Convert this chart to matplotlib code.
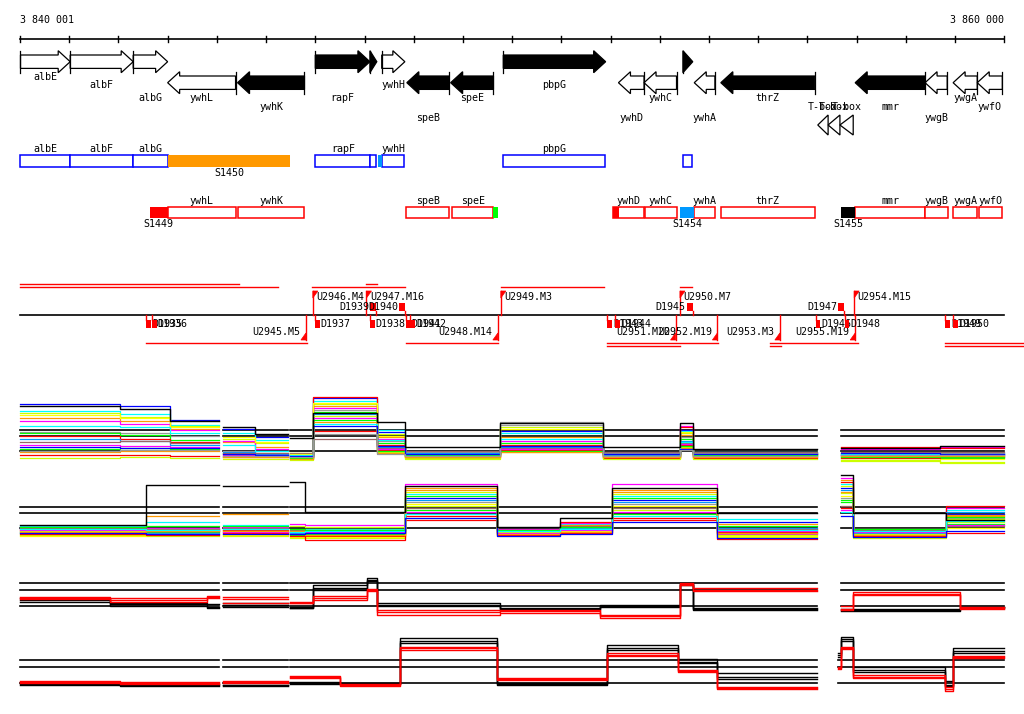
import numpy as np
import matplotlib
matplotlib.use("Agg")
import matplotlib.pyplot as plt
from matplotlib.patches import Polygon, Rectangle

# ------------------------------------------------------------------ data
REGION_LABELS = ["3 840 001", "3 860 000"]
REGION_KB = [3840.0, 3860.0]
TICKS_KB = list(range(3840, 3861))

GENE_NAMES = ["albE", "albF", "albG", "ywhL", "ywhK", "rapF", "", "ywhH", "speB", "speE",
              "pbpG", "ywhD", "ywhC", "", "ywhA", "thrZ", "mmr", "ywgB", "ywgA", "ywfO"]
GENE_START = [3840.01, 3841.02, 3842.30, 3843.00, 3844.42, 3846.00, 3847.11, 3847.35, 3847.86, 3848.75,
              3849.82, 3852.16, 3852.68, 3853.47, 3853.70, 3854.24, 3856.97, 3858.39, 3858.96, 3859.45]
GENE_END = [3841.02, 3842.30, 3843.00, 3844.38, 3845.78, 3847.11, 3847.25, 3847.82, 3848.72, 3849.62,
            3851.90, 3852.68, 3853.34, 3853.67, 3854.12, 3856.15, 3858.39, 3858.84, 3859.45, 3859.96]
GENE_STRAND = ["+", "+", "+", "-", "-", "+", "+", "+", "-", "-",
               "+", "-", "-", "+", "-", "-", "-", "-", "-", "-"]
GENE_FILLED = [0, 0, 0, 0, 1, 1, 1, 0, 1, 1,
               1, 0, 0, 1, 0, 1, 1, 0, 0, 0]
GENE_LABEL_ROW = [0, 1, 2, 2, 3, 2, 2, 1, 4, 2,
                  1, 4, 2, 2, 4, 2, 3, 4, 2, 3]

TBOX_NAMES = ["T-box", "T-box", "T-box"]
TBOX_START = [3856.21, 3856.42, 3856.66]
TBOX_END = [3856.42, 3856.66, 3856.93]

UP_BOX_NAMES = ["albE", "albF", "albG", "rapF", "", "ywhH", "pbpG", ""]
UP_BOX_START = [3840.01, 3841.02, 3842.30, 3846.00, 3847.12, 3847.35, 3849.82, 3853.47]
UP_BOX_END = [3841.02, 3842.30, 3843.00, 3847.12, 3847.24, 3847.81, 3851.89, 3853.66]
UP_SEG_NAMES = ["S1450", ""]
UP_SEG_START = [3843.00, 3847.28]
UP_SEG_END = [3845.49, 3847.35]
UP_SEG_COLORS = ["#ff9900", "#0099ff"]

LO_BOX_NAMES = ["ywhL", "ywhK", "speB", "speE", "ywhD", "ywhC", "ywhA", "thrZ",
                "mmr", "ywgB", "ywgA", "ywfO"]
LO_BOX_START = [3843.00, 3844.42, 3847.85, 3848.78, 3852.04, 3852.70, 3853.70, 3854.24,
                3856.97, 3858.39, 3858.96, 3859.49]
LO_BOX_END = [3844.38, 3845.78, 3848.72, 3849.62, 3852.68, 3853.34, 3854.12, 3856.15,
              3858.39, 3858.86, 3859.45, 3859.96]
LO_SEG_NAMES = ["S1449", "", "", "S1454", "S1455"]
LO_SEG_START = [3842.64, 3849.62, 3852.04, 3853.41, 3856.68]
LO_SEG_END = [3843.00, 3849.71, 3852.18, 3853.70, 3856.97]
LO_SEG_COLORS = ["#ff0000", "#00ff00", "#ff0000", "#0099ff", "#000000"]

# transcription units
UP_U_NAMES = ["U2946.M4", "U2947.M16", "U2949.M3", "U2950.M7", "U2954.M15"]
UP_U_POS = [3845.95, 3847.04, 3849.77, 3853.41, 3856.95]
LO_U_NAMES = ["U2945.M5", "U2948.M14", "U2951.M20", "U2952.M19", "U2953.M3", "U2955.M19"]
LO_U_POS = [3845.81, 3849.71, 3853.32, 3854.17, 3855.44, 3856.97]
UP_D_NAMES = ["D1939", "D1940", "D1945", "D1947"]
UP_D_START = [3847.11, 3847.70, 3853.55, 3856.63]
UP_D_END = [3847.23, 3847.82, 3853.67, 3856.75]
LO_D_NAMES = ["D1935", "D1936", "D1937", "D1938", "D1941", "D1942", "D1943", "D1944",
              "D1946", "D1948", "D1949", "D1950"]
LO_D_START = [3842.56, 3842.68, 3846.00, 3847.11, 3847.84, 3847.93, 3851.92, 3852.09,
              3856.17, 3856.76, 3858.80, 3858.96]
LO_D_END = [3842.66, 3842.78, 3846.09, 3847.21, 3847.94, 3848.03, 3852.03, 3852.19,
            3856.26, 3856.85, 3858.90, 3859.06]
UP_EXT_1 = [(3840.0, 3844.44), (3847.03, 3847.25)]
UP_EXT_2 = [(3840.0, 3845.24), (3845.93, 3847.82), (3849.77, 3851.87), (3853.41, 3853.66)]
LO_EXT_1 = [(3842.56, 3845.83), (3847.84, 3849.71), (3851.92, 3854.19), (3855.23, 3857.03),
            (3858.80, 3860.40)]
LO_EXT_2 = [(3851.92, 3853.41), (3855.23, 3855.46), (3858.80, 3860.40)]

# expression panels (signal units above baseline)
P12_COLORS = ["#0000ff", "#00ffff", "#ccff00", "#ff9900", "#ff00ff", "#999999", "#00ff00",
              "#ff0000", "#0099ff", "#996666", "#ffff00", "#ff0000", "#ccff00", "#ff00ff",
              "#00ff00", "#ff9900", "#00ffff", "#0000ff", "#999999"]

P1_EDGES = [[3840.00, 3842.03, 3843.05, 3844.04],
            [3844.12, 3844.78, 3845.45],
            [3845.49, 3845.95, 3847.25, 3847.82, 3849.75, 3851.85, 3853.41, 3853.68, 3856.20],
            [3856.68, 3858.69, 3860.00]]
P1_BLACK = [45, 42, 30, 24, 17, 13, 38, 29, 4, 28, 4, 28, 2, 3, 5]
P1_VALUES = [
    [47, 45, 31, 22, 14, -6, 53, 19, -2, 20, -3, 21, -2, -4, -3],
    [40, 37, 26, 18, 11, -4, 50, 21, -1, 18, -2, 20, -1, -2, -2],
    [38, 34, 25, 12, 8, -2, 47, 17, -7, 24, -7, 18, -5, -9, -11],
    [33, 30, 22, 9, 4, -3, 45, 14, -3, 14, -4, 16, -3, -3, -4],
    [30, 27, 21, 10, 2, -5, 43, 12, -4, 10, -4, 25, -3, 2, 4],
    [19, 18, 15, 0, -2, -3, 41, 10, -1, 29, -2, 14, -2, -3, -2],
    [18, 16, 11, -2, -4, -6, 39, 8, -5, 8, -6, 12, -6, -6, -7],
    [15, 12, 9, -3, -5, -4, 54, 6, -3, 6, -3, 24, -3, 4, 3],
    [12, 10, 6, -1, -3, -7, 37, 4, -2, 4, -4, 10, -4, -4, -5],
    [9, 10, 8, -2, -2, -2, 12, 3, 0, 3, -1, 8, -1, -1, -1],
    [36, 33, 24, 14, 9, -3, 48, 15, -5, 22, -5, 19, -4, -7, -8],
    [-4, -4, -5, -6, -6, -8, 20, 1, -6, 1, -7, 6, -7, -7, -6],
    [-7, -6, -7, -8, -8, -9, 35, -1, -8, -1, -8, 4, -8, -10, -12],
    [6, 5, 4, -4, -4, -6, 33, 2, -5, 2, -5, 7, -5, -5, -4],
    [2, 3, 2, -5, -5, -7, 31, 0, -4, 0, -5, 5, -4, -6, -6],
    [-1, 0, 0, -6, -6, -8, 29, -2, -6, -1, -6, 3, -6, -5, -5],
    [25, 24, 18, 6, 0, -4, 27, 11, -3, 12, -3, 9, -3, -3, -3],
    [4, 3, 3, -3, -4, -5, 25, 5, -3, 5, -3, 2, -3, -2, -3],
    [0, 1, 1, -5, -5, -6, 17, -3, -5, 26, -5, 1, -5, -4, -4],
]

P2_EDGES = [[3840.00, 3842.56, 3844.04],
            [3844.12, 3845.45],
            [3845.49, 3845.79, 3847.82, 3849.69, 3850.97, 3852.03, 3854.16, 3856.20],
            [3856.68, 3856.93, 3858.82, 3860.00]]
P2_BLACK = [3, 43, 42, 46, 16, 42, 1, 10, 40, 15, 53, 15, 8]
P2_VALUES = [
    [0, -2, 0, -6, -4, 30, -4, 2, 28, 6, 40, -3, 14],
    [2, 6, 3, -3, -1, 34, -2, 4, 32, 9, 44, -1, 18],
    [-7, -8, -8, -10, -10, 22, -8, -4, 18, -9, 35, -10, 6],
    [-2, 12, 14, -4, -2, 38, -3, 3, 36, 4, 48, -2, 12],
    [1, 0, 1, 4, 3, 44, -1, 5, 44, -6, 50, -3, 20],
    [-3, -1, -2, -5, -3, 26, -5, 1, 24, -2, 30, -4, 10],
    [-5, -4, -6, -7, -6, 18, -6, -2, 14, -5, 26, -7, 4],
    [-1, -3, -2, -6, -8, 8, -2, 6, 10, -4, 46, -1, 22],
    [-4, -5, -4, -5, -5, 28, -4, 0, 26, 0, 38, -5, 16],
    [0, -1, 0, -2, -3, 20, -3, 2, 20, -1, 22, -2, 2],
    [-8, -6, -7, -9, -9, 24, -7, -3, 22, -8, 32, -9, 0],
    [-6, -7, -5, -8, -12, 12, -7, -5, 8, -11, 20, -8, -5],
    [-3, -2, -3, 2, 1, 36, -4, -1, 34, -7, 42, -6, 9],
    [-2, -3, -4, -4, -4, 16, -5, -2, 16, -3, 18, -4, 3],
    [1, 2, 2, -1, -2, 32, -2, 1, 30, 2, 28, -1, 11],
    [-4, -3, -3, -3, -7, 40, -6, -4, 38, -5, 36, -7, 13],
    [-1, -2, -1, -4, -3, 14, -3, -1, 12, -2, 16, -3, 7],
    [-5, -6, -6, -6, -5, 10, -8, -6, 6, -10, 12, -9, -3],
]

P3_EDGES = [[3840.00, 3841.83, 3843.80, 3844.04],
            [3844.12, 3845.45],
            [3845.49, 3845.95, 3847.05, 3847.25, 3849.75, 3851.79, 3853.41, 3853.68, 3856.20],
            [3856.68, 3856.93, 3859.10, 3860.00]]
P3_BLACK = [
    [8, 3, 2, 3, -2, 21, 28, 1, -2, 0, 23, -3, -4, -4, -1],
    [6, 2, -1, 1, -2, 18, 26, 3, -4, 1, 22, -4, -3, -3, -1],
    [4, 0, -2, -1, -1, 16, 25, 0, -3, -1, 21, -2, -5, -5, -2],
]
P3_RED = [
    [9, 8, 10, 9, 4, 10, 17, -6, -4, -9, 23, 15, 0, 14, -2],
    [8, 6, 9, 7, 3, 8, 16, -9, -7, -12, 22, 16, -3, 12, -1],
    [7, 4, 8, 3, 3, 6, 15, -4, -5, -10, 21, 18, -4, 11, -3],
]

P4_EDGES = [[3840.00, 3842.03, 3844.04],
            [3844.12, 3845.45],
            [3845.49, 3846.50, 3847.72, 3849.69, 3851.93, 3853.37, 3854.16, 3856.20],
            [3856.62, 3856.68, 3856.93, 3858.80, 3858.96, 3860.00]]
P4_BLACK = [
    [0, -1, -2, 1, 0, 45, 0, 38, 24, 4, 30, 46, 16, -2, 35],
    [-1, -2, -2, 0, -1, 42, -1, 35, 21, 6, 28, 44, 13, -3, 32],
    [-2, -3, -3, -1, -1, 40, -2, 33, 20, 10, 26, 42, 11, 2, 30],
]
P4_RED = [
    [1, 0, 1, 7, -2, 33, 5, 30, 13, -5, 16, 36, 8, -4, 27],
    [0, -1, 0, 5, -3, 35, 3, 27, 12, -4, 14, 34, 6, -8, 25],
    [2, 1, 2, 6, -1, 36, 4, 28, 11, -6, 15, 35, 5, -6, 26],
]

REF_12 = [0, 15, 21]
REF_34 = [0, 16, 23]

# ------------------------------------------------------------------ layout
W, H = 1024, 714
PX0, PX1 = 20.0, 1004.3            # pixel span of REGION_KB
KB_PER_PX = (REGION_KB[1] - REGION_KB[0]) / (PX1 - PX0)
XLIM = (REGION_KB[0] - PX0 * KB_PER_PX, REGION_KB[0] + (W - PX0) * KB_PER_PX)
FONT = dict(family="DejaVu Sans Mono", fontsize=7.2)

fig = plt.figure(figsize=(W / 100, H / 100), dpi=100)
ax = fig.add_axes([0, 0, 1, 1])
ax.set_xlim(*XLIM)
ax.set_ylim(H, 0)
ax.axis("off")

px = KB_PER_PX  # one pixel in kb

# scale bar
ax.plot(REGION_KB, [38.5, 38.5], color="black", lw=1.2)
for t in TICKS_KB:
    ax.plot([t, t], [35.5, 41.5], color="black", lw=1.0)
ax.text(REGION_KB[0], 20, REGION_LABELS[0], ha="left", va="center", **FONT)
ax.text(REGION_KB[1], 20, REGION_LABELS[1], ha="right", va="center", **FONT)

# gene arrows
FWD_Y, REV_Y = 61.7, 82.7
BODY_H, HEAD_H, HEAD_L = 6.7, 11.0, 12 * px
LABEL_ROW_Y = [76.7, 85.3, 97.7, 106.7, 118.3]
for name, s, e, strand, filled, row in zip(GENE_NAMES, GENE_START, GENE_END,
                                           GENE_STRAND, GENE_FILLED, GENE_LABEL_ROW):
    hl = min(HEAD_L, e - s)
    if strand == "+":
        yc = FWD_Y
        pts = [(s, yc - BODY_H), (e - hl, yc - BODY_H), (e - hl, yc - HEAD_H), (e, yc),
               (e - hl, yc + HEAD_H), (e - hl, yc + BODY_H), (s, yc + BODY_H)]
        if e - s <= HEAD_L:
            pts = [(s, yc - HEAD_H), (e, yc), (s, yc + HEAD_H)]
        bar = s
    else:
        yc = REV_Y
        pts = [(e, yc - BODY_H), (s + hl, yc - BODY_H), (s + hl, yc - HEAD_H), (s, yc),
               (s + hl, yc + HEAD_H), (s + hl, yc + BODY_H), (e, yc + BODY_H)]
        bar = e
    ax.add_patch(Polygon(pts, closed=True, facecolor="black" if filled else "white",
                         edgecolor="black", lw=0.9, zorder=3))
    ax.plot([bar, bar], [yc - HEAD_H, yc + HEAD_H], color="black", lw=0.9, zorder=4)
    if name:
        ax.text((s + e) / 2, LABEL_ROW_Y[row], name, ha="center", va="center", **FONT)

# T-box elements
for name, s, e in zip(TBOX_NAMES, TBOX_START, TBOX_END):
    ax.add_patch(Polygon([(e, 115), (s, 125), (e, 135)], closed=True, facecolor="white",
                         edgecolor="black", lw=0.9, zorder=3))
    ax.text((s + e) / 2, 107.5, name, ha="center", va="center", **FONT)

# box rows
def box_row(names, starts, ends, y0, y1, color, label_y):
    for n, s, e in zip(names, starts, ends):
        ax.add_patch(Rectangle((s, y0), e - s, y1 - y0, facecolor="white",
                               edgecolor=color, lw=1.1, zorder=3))
        if n:
            ax.text((s + e) / 2, label_y, n, ha="center", va="center", **FONT)


def seg_row(names, starts, ends, colors, y0, y1, label_y):
    for n, s, e, c in zip(names, starts, ends, colors):
        ax.add_patch(Rectangle((s, y0), e - s, y1 - y0, facecolor=c,
                               edgecolor="none", zorder=4))
        if n:
            ax.text((s + e) / 2, label_y, n, ha="center", va="center", **FONT)


box_row(UP_BOX_NAMES, UP_BOX_START, UP_BOX_END, 155.0, 166.5, "#0000ff", 149.0)
seg_row(UP_SEG_NAMES, UP_SEG_START, UP_SEG_END, UP_SEG_COLORS, 155.0, 166.5, 172.7)
box_row(LO_BOX_NAMES, LO_BOX_START, LO_BOX_END, 207.3, 217.5, "#ff0000", 200.7)
seg_row(LO_SEG_NAMES, LO_SEG_START, LO_SEG_END, LO_SEG_COLORS, 207.3, 217.5, 224.3)

# transcription unit track
BASE_Y = 315.0
RED = "#ff0000"
ax.plot(REGION_KB, [BASE_Y, BASE_Y], color="black", lw=1.2, zorder=2)
for segs, y in [(UP_EXT_1, 284.3), (UP_EXT_2, 287.0), (LO_EXT_1, 343.3), (LO_EXT_2, 346.3)]:
    for s, e in segs:
        ax.plot([s, e], [y, y], color=RED, lw=1.0)
for n, x in zip(UP_U_NAMES, UP_U_POS):
    ax.plot([x, x], [BASE_Y, 291], color=RED, lw=1.0, zorder=3)
    ax.add_patch(Polygon([(x, 291), (x + 5 * px, 291), (x, 298)], closed=True,
                         facecolor=RED, edgecolor=RED, lw=0.5, zorder=3))
    ax.text(x + 3.5 * px, 297.5, n, ha="left", va="center", **FONT)
for n, x in zip(LO_U_NAMES, LO_U_POS):
    ax.plot([x, x], [BASE_Y, 340], color=RED, lw=1.0, zorder=3)
    ax.add_patch(Polygon([(x, 340), (x - 5 * px, 340), (x, 333)], closed=True,
                         facecolor=RED, edgecolor=RED, lw=0.5, zorder=3))
    ax.text(x - 5.5 * px, 332, n, ha="right", va="center", **FONT)
for n, s, e in zip(UP_D_NAMES, UP_D_START, UP_D_END):
    ax.add_patch(Rectangle((s, 302.5), e - s, 8.0, facecolor=RED, edgecolor="none", zorder=3))
    ax.plot([e, e], [310.5, BASE_Y], color=RED, lw=1.0, zorder=3)
    ax.text(s - 1 * px, 306.5, n, ha="right", va="center", **FONT)
for n, s, e in zip(LO_D_NAMES, LO_D_START, LO_D_END):
    ax.add_patch(Rectangle((s, 319.5), e - s, 8.5, facecolor=RED, edgecolor="none", zorder=3))
    ax.plot([s, s], [BASE_Y, 319.5], color=RED, lw=1.0, zorder=3)
    ax.text(e + 1 * px, 324, n, ha="left", va="center", **FONT)


# expression panels
def step_xy(edges, vals):
    x = np.repeat(np.asarray(edges, float), 2)[1:-1]
    y = np.repeat(np.asarray(vals, float), 2)
    return x, y


def panel(top_px, bot_px, base_px, edges, series, colors, refs, lws):
    pax = fig.add_axes([0, 1 - bot_px / H, 1, (bot_px - top_px) / H])
    pax.set_xlim(*XLIM)
    pax.set_ylim(base_px - bot_px, base_px - top_px)
    pax.axis("off")
    for block in edges:
        for r in refs:
            pax.plot([block[0], block[-1]], [r, r], color="black", lw=1.2, zorder=1)
    for vals, c, lw in zip(series, colors, lws):
        i = 0
        for block in edges:
            n = len(block) - 1
            x, y = step_xy(block, vals[i:i + n])
            pax.plot(x, y, color=c, lw=lw, zorder=2)
            i += n
    return pax


panel(390, 466, 451, P1_EDGES, P1_VALUES + [P1_BLACK],
      P12_COLORS + ["black"], REF_12, [0.9] * len(P1_VALUES) + [1.0])
panel(466, 543, 528, P2_EDGES, P2_VALUES + [P2_BLACK],
      P12_COLORS[:len(P2_VALUES)] + ["black"], REF_12, [0.9] * len(P2_VALUES) + [1.0])
panel(566, 622, 606, P3_EDGES, P3_BLACK + P3_RED,
      ["black"] * 3 + [RED] * 3, REF_34, [1.0] * 6)
panel(626, 698, 683, P4_EDGES, P4_BLACK + P4_RED,
      ["black"] * 3 + [RED] * 3, REF_34, [1.0] * 6)

fig.savefig("out.png", dpi=100)
